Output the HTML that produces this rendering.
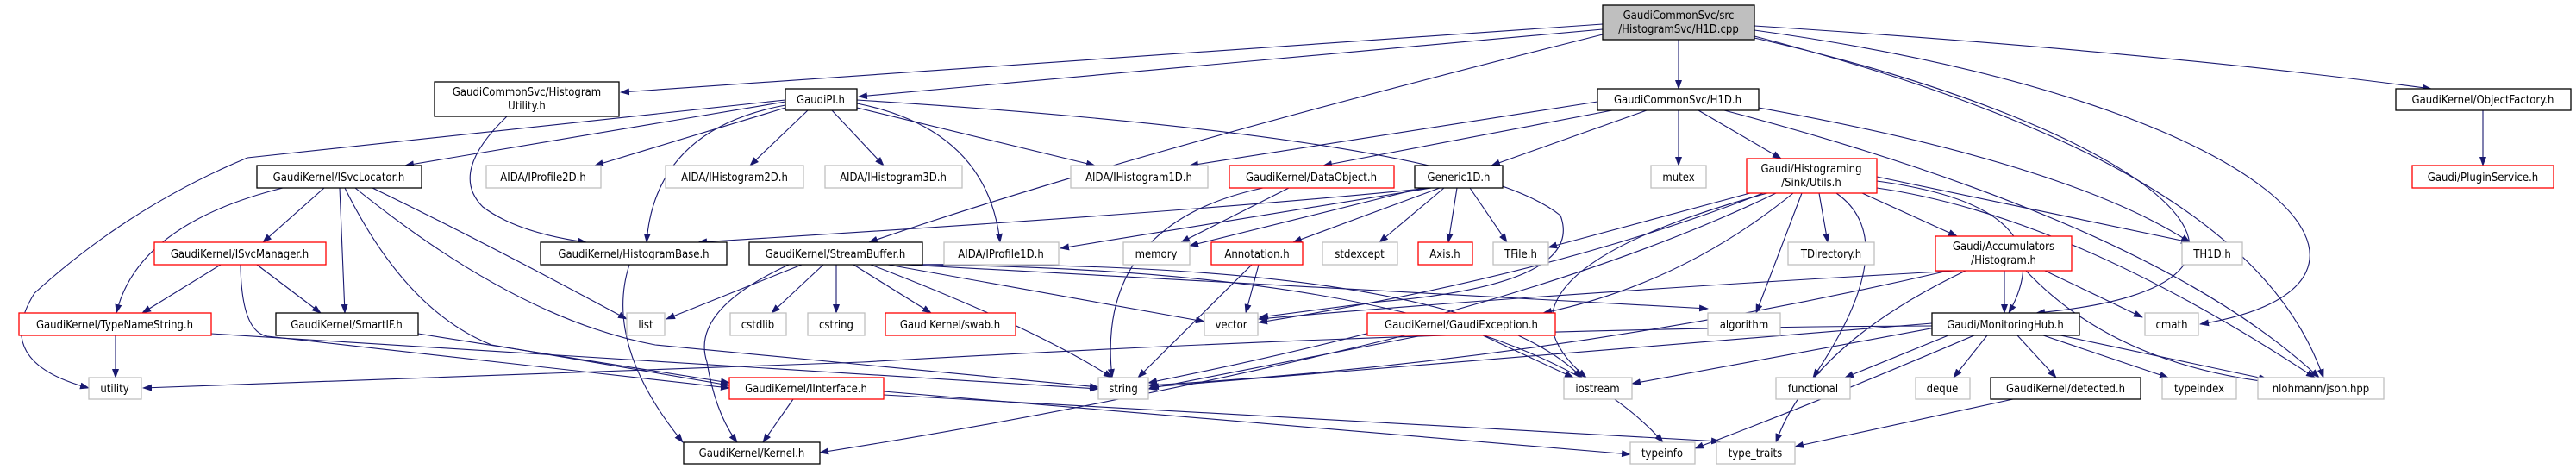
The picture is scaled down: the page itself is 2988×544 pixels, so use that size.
<!DOCTYPE html>
<html><head><meta charset="utf-8"><style>
html,body{margin:0;padding:0;background:#fff;}
svg{display:block;}
text{font-family:"DejaVu Sans Condensed","DejaVu Sans","Liberation Sans",sans-serif;font-size:13px;fill:#000;text-anchor:middle;}
.k{fill:#fff;stroke:#000;stroke-width:1.3}
.g{fill:#fff;stroke:#bfbfbf;stroke-width:1.3}
.r{fill:#fff;stroke:#ff0000;stroke-width:1.3}
path{fill:none;stroke:#191970;stroke-width:1.1}
</style></head><body>
<svg width="2988" height="544" viewBox="0 0 2988 544" xmlns="http://www.w3.org/2000/svg">
<defs><marker id="a" markerUnits="userSpaceOnUse" markerWidth="11" markerHeight="8" refX="10" refY="4" orient="auto"><polygon points="0,0 11,4 0,8" fill="#191970"/></marker></defs>
<g marker-end="url(#a)">
<path d="M1859,28 L720,107"/>
<path d="M1859,34 L996,112"/>
<path d="M1859,40 Q1300,180 1008,281"/>
<path d="M1947,46 L1947,103"/>
<path d="M2035,30 Q2500,60 2820,103"/>
<path d="M2035,44 C2500,150 2720,330 2362,363"/>
<path d="M2035,35 C2650,120 2830,330 2552,376"/>
<path d="M2035,42 C2450,150 2640,280 2695,438"/>
<path d="M1853,118 L1380,192"/>
<path d="M1870,128 L1535,192"/>
<path d="M1910,128 L1730,192"/>
<path d="M1947,128 L1947,192"/>
<path d="M1970,128 L2066,184"/>
<path d="M2040,125 Q2400,190 2540,281"/>
<path d="M2000,128 Q2500,260 2690,438"/>
<path d="M911,118 L470,192"/>
<path d="M911,125 L690,192"/>
<path d="M937,128 L870,192"/>
<path d="M965,128 L1025,192"/>
<path d="M994,125 L1270,192"/>
<path d="M994,120 Q1145,150 1160,281"/>
<path d="M911,122 Q760,150 750,281"/>
<path d="M911,116 L287,183 Q150,240 40,340 Q-10,420 103,450"/>
<path d="M994,116 Q1700,160 1810,250 Q1840,330 1600,350 L1461,368"/>
<path d="M588,135 Q520,200 560,240 Q600,270 680,281"/>
<path d="M376,218 L305,281"/>
<path d="M328,218 Q160,260 135,363"/>
<path d="M394,218 L400,363"/>
<path d="M400,218 Q470,360 570,400 L846,447"/>
<path d="M432,218 Q560,280 727,370"/>
<path d="M412,218 Q600,370 760,400 L1274,449"/>
<path d="M256,307 L165,363"/>
<path d="M298,307 L372,363"/>
<path d="M279,307 Q280,385 310,390 L846,450"/>
<path d="M134,389 L134,438"/>
<path d="M245,387 L1274,451"/>
<path d="M485,387 L846,444"/>
<path d="M2241,378 Q1700,380 1000,420 L166,450"/>
<path d="M730,307 Q700,400 792,513"/>
<path d="M930,307 L773,370"/>
<path d="M955,307 L895,363"/>
<path d="M970,307 L970,363"/>
<path d="M990,307 L1080,363"/>
<path d="M1010,307 Q1200,380 1290,438"/>
<path d="M1030,307 L1397,373"/>
<path d="M915,307 Q800,360 820,420 Q830,480 855,513"/>
<path d="M1040,307 Q1700,300 1835,438"/>
<path d="M1045,307 Q1750,310 1929,513"/>
<path d="M1050,307 L1981,358"/>
<path d="M920,463 L885,513"/>
<path d="M1025,454 L1891,527"/>
<path d="M1025,458 L1995,512"/>
<path d="M1465,218 Q1270,260 1290,438"/>
<path d="M1495,218 L1370,281"/>
<path d="M1660,218 Q1400,245 810,281"/>
<path d="M1660,218 L1230,288"/>
<path d="M1670,218 L1500,281"/>
<path d="M1675,218 L1600,281"/>
<path d="M1690,218 L1680,281"/>
<path d="M1705,218 L1748,281"/>
<path d="M1650,218 L1380,285"/>
<path d="M1452,307 L1320,438"/>
<path d="M1460,307 L1445,363"/>
<path d="M2030,224 L1796,287"/>
<path d="M2045,224 Q1800,320 1460,374"/>
<path d="M2060,224 Q1800,350 1332,444"/>
<path d="M2080,224 Q1950,330 1790,363"/>
<path d="M2090,224 L2037,363"/>
<path d="M2110,224 L2120,281"/>
<path d="M2130,224 Q2210,280 2103,438"/>
<path d="M2160,224 L2270,274"/>
<path d="M2177,210 Q2400,240 2330,363"/>
<path d="M2177,218 Q2400,250 2685,438"/>
<path d="M2177,205 L2540,281"/>
<path d="M2050,224 Q1700,320 1840,438"/>
<path d="M1630,389 Q1300,470 951,525"/>
<path d="M1650,389 L1332,451"/>
<path d="M1720,389 L1825,438"/>
<path d="M2325,314 L2325,363"/>
<path d="M2372,314 L2485,368"/>
<path d="M2350,314 Q2450,420 2630,443"/>
<path d="M2270,314 Q1800,340 1460,370"/>
<path d="M2260,314 Q1800,420 1332,447"/>
<path d="M2280,314 Q2100,400 2060,513"/>
<path d="M2241,375 Q1800,410 1334,449"/>
<path d="M2245,380 L1893,445"/>
<path d="M2260,389 L2140,438"/>
<path d="M2305,389 L2266,438"/>
<path d="M2340,389 L2385,438"/>
<path d="M2370,389 L2515,438"/>
<path d="M2390,389 L2630,440"/>
<path d="M2290,389 Q2100,470 1966,520"/>
<path d="M2335,463 L2082,518"/>
<path d="M2880,128 L2880,192"/>
</g>
<rect x="1859" y="6" width="176" height="40" fill="#bfbfbf" stroke="#000" stroke-width="1.3"/>
<text x="1947" y="22">GaudiCommonSvc/src</text><text x="1947" y="38">/HistogramSvc/H1D.cpp</text>
<rect class="k" x="504" y="95" width="214" height="40"/><text x="611" y="111">GaudiCommonSvc/Histogram</text><text x="611" y="127">Utility.h</text>
<rect class="k" x="911" y="103" width="83" height="25"/><text x="952" y="120">GaudiPI.h</text>
<rect class="k" x="1853" y="103" width="187" height="25"/><text x="1946" y="120">GaudiCommonSvc/H1D.h</text>
<rect class="k" x="2779" y="103" width="203" height="25"/><text x="2880" y="120">GaudiKernel/ObjectFactory.h</text>
<rect class="k" x="298" y="192" width="191" height="26"/><text x="393" y="210">GaudiKernel/ISvcLocator.h</text>
<rect class="g" x="564" y="192" width="133" height="26"/><text x="630" y="210">AIDA/IProfile2D.h</text>
<rect class="g" x="772" y="192" width="160" height="26"/><text x="852" y="210">AIDA/IHistogram2D.h</text>
<rect class="g" x="957" y="192" width="159" height="26"/><text x="1036" y="210">AIDA/IHistogram3D.h</text>
<rect class="g" x="1242" y="192" width="159" height="26"/><text x="1321" y="210">AIDA/IHistogram1D.h</text>
<rect class="r" x="1426" y="192" width="191" height="26"/><text x="1521" y="210">GaudiKernel/DataObject.h</text>
<rect class="k" x="1641" y="192" width="102" height="26"/><text x="1692" y="210">Generic1D.h</text>
<rect class="g" x="1915" y="192" width="64" height="26"/><text x="1947" y="210">mutex</text>
<rect class="r" x="2026" y="184" width="151" height="40"/><text x="2101" y="200">Gaudi/Histograming</text><text x="2101" y="216">/Sink/Utils.h</text>
<rect class="r" x="2798" y="192" width="164" height="26"/><text x="2880" y="210">Gaudi/PluginService.h</text>
<rect class="r" x="179" y="281" width="199" height="26"/><text x="278" y="299">GaudiKernel/ISvcManager.h</text>
<rect class="k" x="627" y="281" width="216" height="26"/><text x="735" y="299">GaudiKernel/HistogramBase.h</text>
<rect class="k" x="869" y="281" width="201" height="26"/><text x="969" y="299">GaudiKernel/StreamBuffer.h</text>
<rect class="g" x="1095" y="281" width="133" height="26"/><text x="1161" y="299">AIDA/IProfile1D.h</text>
<rect class="g" x="1303" y="281" width="77" height="26"/><text x="1341" y="299">memory</text>
<rect class="r" x="1405" y="281" width="106" height="26"/><text x="1458" y="299">Annotation.h</text>
<rect class="g" x="1534" y="281" width="87" height="26"/><text x="1577" y="299">stdexcept</text>
<rect class="r" x="1645" y="281" width="63" height="26"/><text x="1676" y="299">Axis.h</text>
<rect class="g" x="1732" y="281" width="64" height="26"/><text x="1764" y="299">TFile.h</text>
<rect class="g" x="2074" y="281" width="100" height="26"/><text x="2124" y="299">TDirectory.h</text>
<rect class="r" x="2245" y="274" width="158" height="40"/><text x="2324" y="290">Gaudi/Accumulators</text><text x="2324" y="306">/Histogram.h</text>
<rect class="g" x="2531" y="281" width="70" height="26"/><text x="2566" y="299">TH1D.h</text>
<rect class="r" x="22" y="363" width="223" height="26"/><text x="133" y="381">GaudiKernel/TypeNameString.h</text>
<rect class="k" x="320" y="363" width="165" height="26"/><text x="402" y="381">GaudiKernel/SmartIF.h</text>
<rect class="g" x="727" y="363" width="44" height="26"/><text x="749" y="381">list</text>
<rect class="g" x="847" y="363" width="65" height="26"/><text x="879" y="381">cstdlib</text>
<rect class="g" x="937" y="363" width="66" height="26"/><text x="970" y="381">cstring</text>
<rect class="r" x="1027" y="363" width="151" height="26"/><text x="1102" y="381">GaudiKernel/swab.h</text>
<rect class="g" x="1397" y="363" width="62" height="26"/><text x="1428" y="381">vector</text>
<rect class="r" x="1586" y="363" width="218" height="26"/><text x="1695" y="381">GaudiKernel/GaudiException.h</text>
<rect class="g" x="1981" y="363" width="84" height="26"/><text x="2023" y="381">algorithm</text>
<rect class="k" x="2241" y="363" width="171" height="26"/><text x="2326" y="381">Gaudi/MonitoringHub.h</text>
<rect class="g" x="2488" y="363" width="62" height="26"/><text x="2519" y="381">cmath</text>
<rect class="g" x="103" y="438" width="61" height="25"/><text x="133" y="455">utility</text>
<rect class="r" x="846" y="438" width="179" height="25"/><text x="935" y="455">GaudiKernel/IInterface.h</text>
<rect class="g" x="1274" y="438" width="58" height="25"/><text x="1303" y="455">string</text>
<rect class="g" x="1814" y="438" width="79" height="25"/><text x="1853" y="455">iostream</text>
<rect class="g" x="2060" y="438" width="86" height="25"/><text x="2103" y="455">functional</text>
<rect class="g" x="2222" y="438" width="63" height="25"/><text x="2253" y="455">deque</text>
<rect class="k" x="2309" y="438" width="174" height="25"/><text x="2396" y="455">GaudiKernel/detected.h</text>
<rect class="g" x="2508" y="438" width="86" height="25"/><text x="2551" y="455">typeindex</text>
<rect class="g" x="2619" y="438" width="146" height="25"/><text x="2692" y="455">nlohmann/json.hpp</text>
<rect class="k" x="793" y="513" width="158" height="25"/><text x="872" y="530">GaudiKernel/Kernel.h</text>
<rect class="g" x="1891" y="513" width="75" height="25"/><text x="1928" y="530">typeinfo</text>
<rect class="g" x="1991" y="513" width="91" height="25"/><text x="2036" y="530">type_traits</text>
</svg>
</body></html>
